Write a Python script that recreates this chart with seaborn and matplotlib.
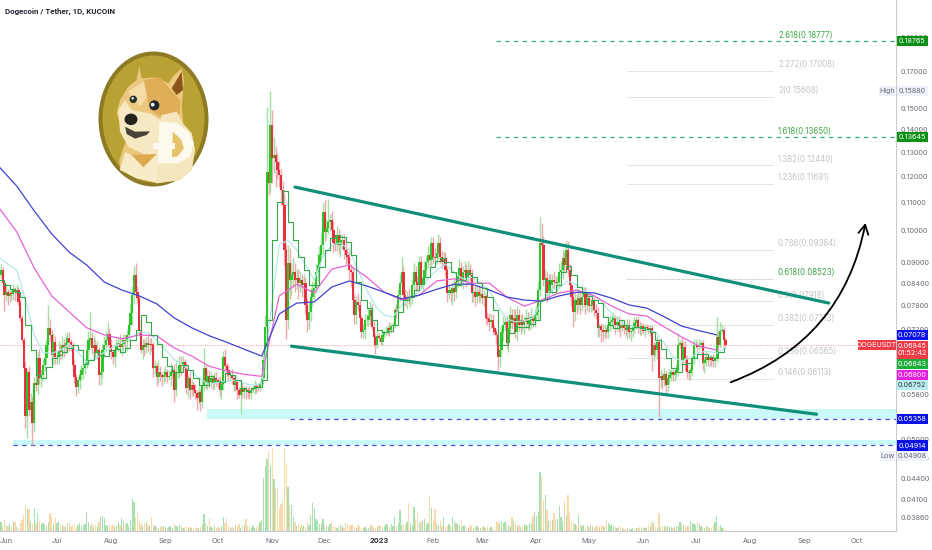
import numpy as np
import pandas as pd
import seaborn as sns
import matplotlib.pyplot as plt
import matplotlib.dates as mdates
from matplotlib.patches import Ellipse, Polygon, Circle
from matplotlib.transforms import ScaledTranslation

# ---------------------------------------------------------
# data (prices in 1e-4 USDT)
# ---------------------------------------------------------
START = '2022-05-29'
UNIT = 1e-4

closes = [864,878,841,
 808,816,805,814,811,822,816,822,790,749,696,634,541,626,552,566,529,603,599,655,613,619,640,655,685,725,708,662,691,657,
 657,673,668,685,678,689,701,691,685,640,615,596,609,619,630,634,640,673,696,701,678,685,668,673,619,626,673,685,696,711,685,
 668,657,673,685,689,680,687,696,691,708,732,762,808,864,816,800,720,673,685,680,689,685,687,685,634,638,615,626,619,615,619,
 626,615,617,626,630,590,626,626,640,638,647,634,594,613,590,599,590,584,574,586,566,599,634,603,617,605,613,603,613,609,
 605,590,601,657,638,630,619,619,613,599,605,590,580,594,586,592,590,586,584,590,594,597,596,594,601,613,651,727,1217,1174,1422,
 1275,1287,1258,1225,1204,1146,1090,939,744,899,850,864,873,850,855,841,850,836,841,782,744,764,803,822,827,873,893,923,955,1065,
 997,1010,1030,1037,1003,961,955,987,955,970,970,939,923,917,878,873,795,756,790,782,749,715,720,744,744,754,769,727,703,685,706,
 701,691,708,713,715,725,720,729,732,769,764,808,841,873,808,795,803,800,800,836,873,844,836,902,836,855,878,902,923,908,961,
 917,914,930,961,917,902,914,878,814,822,814,827,816,844,861,884,850,873,878,855,878,864,814,816,803,816,805,811,
 800,805,749,747,739,744,725,715,708,657,673,715,732,739,689,725,756,737,749,715,756,732,744,732,739,749,734,744,752,742,756,
 764,822,961,955,850,855,814,850,836,850,844,841,844,873,878,914,893,939,878,836,803,764,795,782,800,782,803,814,782,800,
 779,782,795,769,762,725,729,720,715,720,715,732,739,744,749,732,739,729,725,732,725,720,732,715,718,727,737,744,727,722,729,
 718,727,725,720,725,662,685,673,691,613,617,609,621,599,613,619,626,619,626,630,685,689,651,680,655,626,623,630,655,685,
 685,680,685,689,644,651,657,651,655,651,649,653,703,685,718,720,696,685]

# wick length above / below the body, in percent
upper_pct = [1,2,1,
 1,3,1,2,1,2,1,2,1,1,1,1,2,1,2,3,2,2,3,2,3,2,2,2,2,8,3,2,3,2,
 2,3,2,3,2,3,2,2,1,1,2,1,1,2,2,1,2,3,3,9,2,3,2,3,1,4,2,3,3,4,2,
 2,1,2,2,2,3,2,2,2,2,2,3,3,3,4,2,1,3,2,2,2,3,2,2,1,2,1,4,2,1,2,
 2,1,2,3,1,2,4,2,3,3,2,1,2,1,2,2,1,2,1,2,1,2,7,1,2,2,2,1,2,2,
 1,2,1,2,3,1,2,1,2,1,2,1,1,2,2,1,1,1,2,1,1,2,1,1,1,2,2,4,24,6,12,
 5,6,3,3,3,2,3,4,2,6,5,4,5,3,3,3,3,2,3,2,2,3,3,3,2,3,4,3,4,3,
 4,3,8,2,3,3,2,3,2,2,2,2,3,2,3,2,2,2,2,3,2,1,2,2,2,3,3,2,2,1,2,
 1,1,2,1,2,1,2,1,1,1,2,2,3,5,2,2,2,3,1,2,3,2,2,2,2,2,3,2,3,3,2,
 2,3,2,3,2,2,2,2,1,2,1,2,3,2,3,3,2,2,3,2,3,2,2,2,2,2,2,2,
 2,2,1,2,2,2,2,1,1,1,3,2,3,2,2,3,3,2,3,3,3,2,2,2,2,3,2,2,3,1,2,
 2,3,9,7,3,3,2,2,2,2,3,2,2,3,3,3,2,3,3,2,1,2,3,2,3,2,2,2,2,2,
 2,2,2,1,2,2,1,1,2,2,1,2,2,2,2,1,2,2,1,2,1,1,2,2,1,2,2,1,1,2,1,
 1,1,1,1,1,1,1,1,2,1,2,1,2,1,2,2,1,1,1,2,4,1,2,2,2,1,1,1,1,2,
 2,1,2,1,1,1,2,1,1,1,2,1,7,2,3,2,1,1]
lower_pct = [2,1,2,
 5,2,3,2,2,2,3,2,1,1,1,2,4,7,2,2,7,3,2,3,2,3,2,2,2,2,2,3,3,2,
 2,2,2,2,3,2,2,3,2,2,2,3,2,3,2,3,2,1,3,2,2,3,2,2,3,3,2,2,2,2,2,
 2,2,3,2,2,2,3,2,2,3,2,2,4,3,2,2,2,1,3,3,2,2,3,2,3,2,3,2,2,3,2,
 2,2,1,3,2,4,2,2,2,3,2,3,2,3,3,2,2,2,4,2,3,2,2,2,2,2,2,2,2,2,
 2,2,3,2,2,2,2,2,2,2,2,3,1,6,2,2,3,2,2,2,1,2,2,1,1,1,2,3,4,4,3,
 8,5,8,3,4,5,4,5,6,3,6,5,4,4,3,5,3,4,5,3,4,3,3,3,3,2,3,4,2,3,
 3,2,2,3,3,3,2,2,3,4,3,3,3,2,3,5,3,3,3,2,3,2,2,3,2,2,3,1,3,3,1,
 1,1,1,1,1,1,2,1,1,1,2,1,2,3,5,2,3,2,3,2,2,3,2,2,1,2,2,2,2,2,2,
 2,2,2,2,2,2,2,2,3,2,3,4,3,2,2,2,2,3,2,3,2,2,3,3,3,2,2,2,
 2,3,2,2,3,2,2,1,3,4,3,2,3,2,2,3,2,2,3,2,3,2,3,2,3,2,2,2,3,2,2,
 2,3,2,3,2,2,3,2,2,3,2,2,3,2,2,3,2,2,2,2,3,5,3,3,2,3,2,3,3,2,
 2,2,2,2,2,3,3,4,3,2,2,2,2,2,2,3,2,2,3,1,2,2,3,2,3,2,2,2,2,2,2,
 1,2,1,1,2,5,2,2,3,12,3,3,2,3,2,2,2,2,2,2,2,1,2,1,4,2,2,2,2,2,
 1,2,1,1,2,3,2,2,2,2,2,2,1,2,1,1,2,1]

volumes = [7,9,5,
 11,6,5,7,4,10,9,4,3,8,11,16,26,22,22,9,7,23,8,18,10,7,8,6,5,9,18,14,8,13,
 8,10,7,6,5,4,8,9,5,6,7,4,6,8,5,6,7,19,9,5,7,4,6,5,9,14,15,13,6,5,7,
 5,6,4,5,9,6,13,10,6,8,5,11,32,29,14,19,10,7,5,8,9,6,5,14,7,5,4,3,5,4,5,
 4,3,4,5,3,7,5,4,6,5,3,4,5,3,4,3,2,4,3,3,4,7,17,8,5,13,4,3,5,3,
 4,3,5,14,8,13,5,3,4,3,6,5,7,3,5,6,12,5,4,3,5,3,4,6,9,11,53,65,72,80,66,
 83,52,42,43,23,27,30,83,68,44,26,26,14,9,5,7,4,6,5,4,9,6,16,28,23,12,10,7,8,12,
 6,5,4,7,9,5,4,3,4,6,5,3,8,7,5,6,7,4,3,6,5,3,3,4,2,3,5,6,4,3,5,
 5,6,4,5,7,6,4,7,5,14,5,8,21,6,7,6,9,28,8,6,24,12,19,8,9,10,12,6,8,35,23,
 12,22,8,6,10,5,14,4,5,7,5,14,10,8,7,6,11,5,6,4,3,5,6,3,4,5,3,3,
 5,4,3,5,3,4,3,5,10,9,7,10,8,9,7,6,5,14,10,7,5,6,4,5,7,6,5,8,7,15,19,
 15,19,59,55,31,36,21,10,10,11,18,12,12,25,14,10,30,15,36,18,9,8,7,6,16,7,5,6,4,5,
 4,6,5,3,5,6,4,6,5,4,11,8,6,7,5,4,3,5,4,3,2,2,3,2,2,3,2,3,3,4,3,
 4,3,4,5,4,9,8,4,3,18,4,5,5,4,5,4,4,3,4,5,5,9,8,6,4,5,5,10,8,7,
 6,9,7,5,4,3,5,4,3,3,6,9,15,5,6,3,3,2]

# short stepped average, one value every 3 days
green_ma = [850,836,824,816,803,732,673,619,613,636,655,662,668,678,685,673,642,651,668,662,660,673,675,668,678,696,720,756,739,708,
 687,657,638,626,626,640,630,613,599,599,617,607,605,623,619,609,594,588,594,596,609,744,970,1101,1142,1030,970,917,878,836,
 836,887,939,977,987,980,964,923,844,795,774,744,720,715,718,732,764,795,803,822,838,858,887,905,914,902,873,836,850,870,
 858,841,827,803,769,685,685,713,727,727,727,734,744,795,850,816,836,873,890,864,830,814,805,795,787,752,732,725,744,732,
 725,727,725,722,715,696,675,655,634,626,642,644,655,664,664,657,655,668,678]
# pale average, one value every 5 days
cyan_ma = [914,896,878,795,708,668,666,673,687,668,647,655,668,680,689,699,715,713,696,673,653,640,626,611,601,605,607,609,603,599,
 603,756,955,970,939,893,850,917,955,961,939,878,822,779,756,752,782,800,816,853,878,896,870,853,858,841,822,777,747,739,
 742,749,790,822,827,847,836,819,806,787,759,737,729,725,720,715,689,657,649,657,668,671,666,678]
# slow averages, one value every 10 days
magenta_ma = [1079,997,884,806,764,725,708,699,708,706,678,660,638,628,621,617,806,838,814,881,893,858,816,795,808,847,853,841,841,803,
 779,795,814,822,806,779,759,754,727,703,682,673]
blue_ma = [1237,1161,1069,990,932,893,844,822,806,785,749,725,706,691,675,660,759,787,790,830,847,833,816,798,808,824,838,838,822,803,
 795,792,806,816,814,800,782,774,752,729,718,708]

# trend lines and arrow
upper_line_dates = ['2022-11-14', '2023-09-15']
upper_line_prices = [0.1157, 0.0787]
lower_line_dates = ['2022-11-12', '2023-09-08']
lower_line_prices = [0.0682, 0.0544]
arrow_dates = ['2023-07-21', '2023-10-06']
arrow_prices = [0.0605, 0.1027]

# fibonacci levels
fib_labels = ['2.618(0.18777)', '2.272(0.17008)', '2(0.15608)', '1.618(0.13650)', '1.382(0.12440)', '1.236(0.11691)',
              '0.786(0.09384)', '0.618(0.08523)', '0.5(0.07918)', '0.382(0.07313)', '0.236(0.06565)', '0.148(0.06113)']
fib_prices = [0.18777, 0.17008, 0.15608, 0.13650, 0.12440, 0.11691, 0.09384, 0.08523, 0.07918, 0.07313, 0.06565, 0.06113]
fib_green = ['2.618(0.18777)', '1.618(0.13650)', '0.618(0.08523)']

# axis
month_dates = ['2022-06-01', '2022-07-01', '2022-08-01', '2022-09-01', '2022-10-01', '2022-11-01', '2022-12-01', '2023-01-01',
               '2023-02-01', '2023-03-01', '2023-04-01', '2023-05-01', '2023-06-01', '2023-07-01', '2023-08-01', '2023-09-01', '2023-10-01']
month_labels = ['Jun', 'Jul', 'Aug', 'Sep', 'Oct', 'Nov', 'Dec', '2023', 'Feb', 'Mar', 'Apr', 'May', 'Jun', 'Jul', 'Aug', 'Sep', 'Oct']
price_ticks = [0.19, 0.17, 0.15, 0.14, 0.13, 0.12, 0.11, 0.10, 0.09, 0.084, 0.078, 0.072, 0.058, 0.05, 0.047, 0.044, 0.041, 0.0386]

# ---------------------------------------------------------
# setup
# ---------------------------------------------------------
sns.set_theme(style='white')
plt.rcParams['font.family'] = ['Inter', 'DejaVu Sans']
GREY = '#6a6d78'
UP, DOWN = '#2cc52c', '#e6323c'
UP_W, DOWN_W = '#a4dfa4', '#f2a6ae'
TEAL = '#0f8f78'
BLUE = '#4a4ee6'
BAND = '#c9f9f9'
DASH = (0, (3.5, 3.5))

def dn(s):
    return mdates.date2num(pd.Timestamp(s))

def level(price, x0, x1, col, style, lw=0.9):
    ax.plot([x0, x1], [price, price], color=col, lw=lw, ls=style, zorder=2)

dates = pd.date_range(START, periods=len(closes), freq='D')
df = pd.DataFrame({'date': dates, 'close': np.array(closes) * UNIT, 'vol': volumes})
df['num'] = mdates.date2num(df['date'])
df['open'] = df['close'].shift(1).fillna(0.0850)
df['top'] = df[['open', 'close']].max(axis=1)
df['bot'] = df[['open', 'close']].min(axis=1)
df['high'] = df['top'] * (1 + np.array(upper_pct) / 100)
df['low'] = df['bot'] * (1 - np.array(lower_pct) / 100)
df['dir'] = np.where(df['close'] >= df['open'], 'up', 'down')

fig = plt.figure(figsize=(9.32, 5.5), dpi=100)
ax = fig.add_axes([0, 19 / 550, 896 / 932, 531 / 550])
ax_vol = ax.twinx()
ax.set_zorder(2)
ax.patch.set_visible(False)
ax_vol.set_zorder(1)

# ---------------------------------------------------------
# volume
# ---------------------------------------------------------
sns.barplot(data=df, x='num', y='vol', hue='dir', native_scale=True, dodge=False, width=0.8, legend=False,
            palette={'up': '#a9e0b0', 'down': '#fbd9ab'}, saturation=1, linewidth=0, ax=ax_vol)
ax_vol.set_ylim(0, 531)
ax_vol.set_yticks([])
ax_vol.set_ylabel('')
ax_vol.set_xlabel('')

# ---------------------------------------------------------
# price
# ---------------------------------------------------------
ax.set_yscale('log')

# support bands + levels
x_end = dn(START) + 540
ax.fill_between([dn('2022-09-25'), x_end], 0.05358, 0.0553, color=BAND, lw=0, zorder=1)
ax.fill_between([dn('2022-06-06'), x_end], 0.04914, 0.0499, color=BAND, lw=0, zorder=1)
level(0.05358, dn('2022-11-11'), x_end, BLUE, DASH)
level(0.04914, dn('2022-06-06'), x_end, BLUE, DASH)
level(0.06845, dn(START) - 5, x_end, '#f4a9b0', (0, (1, 1.2)), lw=0.8)

# fib levels
for lab, p in zip(fib_labels, fib_prices):
    green = lab in fib_green
    if lab.startswith('2.618') or lab.startswith('1.618'):
        level(p, dn('2023-03-09'), x_end, '#2fae6c', DASH)
    else:
        level(p, dn('2023-05-23'), dn('2023-08-14'), '#b5c9b5' if green else '#e4e4e4',
              (0, (1.5, 1)) if green else '-', lw=0.7)
    ax.annotate(lab, (dn('2023-08-17'), p), xytext=(0, 4.5), textcoords='offset points', va='center', ha='left',
                fontsize=5.7, color='#3fa548' if green else '#c4c4c4', zorder=2)

# candles
ax.vlines(df['num'], df['low'], df['high'], colors=df['dir'].map({'up': UP_W, 'down': DOWN_W}), lw=1.0, zorder=3)
ax.bar(df['num'], df['top'] - df['bot'], bottom=df['bot'], width=1.15, linewidth=0,
       color=df['dir'].map({'up': UP, 'down': DOWN}), zorder=4)

# moving averages
ma_series = [(cyan_ma, 5, '#b4e8e8', 0.9), (magenta_ma, 10, '#e763d8', 0.9), (blue_ma, 10, '#3e42cf', 0.9)]
for vals, step, col, lw in ma_series:
    x = df['num'].iloc[0] + np.arange(len(vals)) * step
    sns.lineplot(x=x, y=np.array(vals) * UNIT, color=col, lw=lw, estimator=None, ax=ax, zorder=5)
x = df['num'].iloc[0] + np.arange(len(green_ma)) * 3
sns.lineplot(x=x, y=np.array(green_ma) * UNIT, color='#35a84a', lw=0.8, estimator=None, drawstyle='steps-post', ax=ax, zorder=6)

# trend lines
ax.plot([dn(d) for d in upper_line_dates], upper_line_prices, color=TEAL, lw=2.3, solid_capstyle='round', zorder=7)
ax.plot([dn(d) for d in lower_line_dates], lower_line_prices, color=TEAL, lw=2.3, solid_capstyle='round', zorder=7)

# projected move
ax.annotate('', xy=(dn(arrow_dates[1]), arrow_prices[1]), xytext=(dn(arrow_dates[0]), arrow_prices[0]),
            arrowprops=dict(arrowstyle='->,head_length=0.55,head_width=0.3', color='black', lw=1.3,
                            connectionstyle='arc3,rad=0.28', shrinkA=0, shrinkB=0), zorder=7)

# axes
ax.set_xlim(dn('2022-06-01') - 2.57, dn('2022-06-01') + 509.43)
ax.set_ylim(0.03691, 0.2154)
ax.yaxis.tick_right()
ax.yaxis.set_label_position('right')
ax.set_yticks(price_ticks)
ax.set_yticklabels([f'{p:.5f}' for p in price_ticks], fontsize=5.2, color=GREY)
ax.minorticks_off()
ax.set_xticks([dn(d) for d in month_dates])
ax.set_xticklabels(month_labels, fontsize=5.3, color=GREY)
ax.get_xticklabels()[7].set_fontweight('bold')
ax.get_xticklabels()[7].set_color('#2a2e39')
ax.tick_params(axis='both', length=0)
ax.tick_params(axis='x', pad=5)
ax.tick_params(axis='y', pad=3)
# first month label would touch the left edge
first = ax.get_xticklabels()[0]
first.set_transform(first.get_transform() + ScaledTranslation(2 / 100, 0, fig.dpi_scale_trans))
ax.set_xlabel('')
ax.set_ylabel('')
for s in ['top', 'left']:
    ax.spines[s].set_visible(False)
    ax_vol.spines[s].set_visible(False)
for s in ['right', 'bottom']:
    ax.spines[s].set_color('#c9cbd1')
    ax.spines[s].set_linewidth(0.8)
    ax_vol.spines[s].set_visible(False)
ax_vol.tick_params(axis='x', labelbottom=False, length=0)

# ---------------------------------------------------------
# overlay (pixel space): price tags, title, logo
# ---------------------------------------------------------
ov = fig.add_axes([0, 0, 1, 1], zorder=10)
ov.set_xlim(0, 932)
ov.set_ylim(550, 0)
ov.axis('off')

def tag(y, txt, bg, fg='white', x0=896.5, x1=928, h=10.5):
    ov.fill_between([x0, x1], y - h / 2, y + h / 2, color=bg, lw=0)
    ov.text((x0 + x1) / 2, y, txt, color=fg, fontsize=5.2, ha='center', va='center')

tag(41, '0.18765', '#0c8f14')
tag(137, '0.13645', '#0c8f14')
tag(91, '0.15880', '#eef1f9', GREY)
tag(91, 'High', '#eef1f9', GREY, x0=879, x1=895)
tag(335, '0.07078', '#0a12e6')
tag(349.5, '0.06845\n01:52:42', '#ee3b47', h=18)
tag(345, 'DOGEUSDT', '#ee3b47', x0=858, x1=895.5)
tag(364, '0.06843', '#1fae3c')
tag(375, '0.06800', '#e81ee0')
tag(385, '0.06752', '#b9ecec', '#30404a')
tag(419, '0.05358', '#0a12e6')
tag(445.5, '0.04914', '#0a12e6')
tag(456, '0.04908', '#eef1f9', GREY)
tag(456, 'Low', '#eef1f9', GREY, x0=880, x1=895)

ov.text(5, 11.5, 'Dogecoin / Tether, 1D, KUCOIN', fontsize=5.7, color='#1f2430', fontweight='bold',
        family=['Roboto', 'DejaVu Sans'], va='center')

# logo, outlined at 3x pixel scale
def poly(pts, col, z=1):
    ov.add_patch(Polygon(np.array(pts) / 3, closed=True, fc=col, ec='none', zorder=z))

ov.add_patch(Ellipse((153.5, 119), 110, 135, fc='#8c7a24', ec='none', zorder=1))
ov.add_patch(Ellipse((153.5, 119), 102, 127, fc='#b9a134', ec='none', zorder=1))
poly([(418, 198), (425, 235), (470, 232), (505, 250), (520, 228), (545, 205), (552, 240), (548, 290), (545, 320), (550, 370),
      (575, 400), (585, 450), (575, 510), (540, 540), (470, 550), (410, 535), (360, 510), (358, 480), (375, 430), (390, 410),
      (360, 370), (350, 340), (360, 300), (385, 260), (410, 240)], '#ebc77f', 2)
poly([(385, 275), (430, 245), (445, 285), (420, 320), (395, 290)], '#f3dca6', 3)
poly([(432, 240), (480, 232), (505, 262), (540, 300), (540, 340), (490, 355), (450, 330), (440, 285)], '#e0ad58', 3)
poly([(355, 330), (375, 300), (395, 330), (420, 335), (450, 340), (485, 362), (472, 420), (470, 470), (430, 462), (385, 440), (360, 395)], '#f6e8c2', 4)
poly([(485, 345), (530, 335), (548, 370), (575, 400), (585, 450), (575, 510), (540, 540), (470, 550), (460, 450)], '#f6e6bd', 4)
poly([(360, 510), (375, 455), (420, 480), (470, 460), (472, 548), (410, 535)], '#f7ebc8', 4)
poly([(395, 465), (470, 462), (430, 502)], '#dfa84f', 5)
poly([(515, 265), (545, 215), (549, 270), (530, 285)], '#8a5518', 5)
poly([(375, 380), (405, 395), (450, 394), (440, 405), (405, 416), (380, 402)], '#4a4438', 5)
ov.add_patch(Ellipse((393 / 3, 358 / 3), 13, 11.5, fc='#26231f', ec='none', zorder=6))
ov.add_patch(Circle((400 / 3, 298 / 3), 3.7, fc='#25302a', ec='none', zorder=6))
ov.add_patch(Circle((463 / 3, 316 / 3), 5, fc='#1c2430', ec='none', zorder=6))
ov.add_patch(Circle((458 / 3, 314 / 3), 1.9, fc='white', ec='none', zorder=7))
ov.add_patch(Circle((398 / 3, 295 / 3), 1.2, fc='white', ec='none', zorder=7))
# the D
poly([(478, 365), (530, 368), (565, 395), (582, 430), (570, 470), (535, 490), (472, 490)], '#fdf9ee', 8)
poly([(518, 395), (543, 418), (552, 445), (532, 470), (516, 472)], '#e6c46c', 9)
poly([(460, 428), (525, 428), (525, 448), (460, 448)], '#fdf9ee', 10)

fig.savefig('out.png', dpi=100)
